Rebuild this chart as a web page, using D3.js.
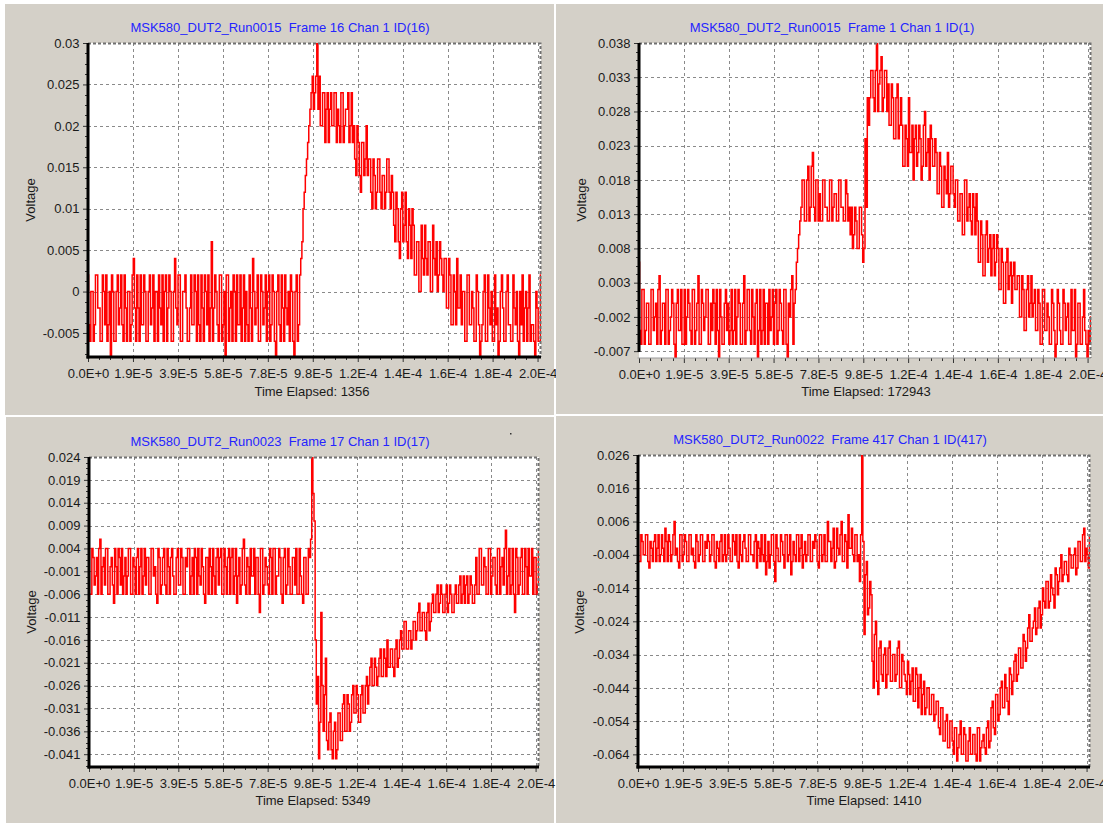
<!DOCTYPE html>
<html>
<head>
<meta charset="utf-8">
<script src="https://cdn.jsdelivr.net/npm/d3@7"></script>
<style>
  body { margin: 0; background: #fff; }
  svg { display: block; }
  text { font-family: "Liberation Sans", Arial, sans-serif; font-size: 13px; }
</style>
</head>
<body>
<div id="chart"></div>
<script>
// ---- data read off the four scope captures ----
// samples are ADC codes (one code = 2 mV). Two interleaved phases:
// phase A at k * 1 us, phase B half a microsecond later.
const voltsPerCode = 0.002;
const sampleInterval = 1e-6;
const xMax = 1.975e-4;

const titles = [
  "MSK580_DUT2_Run0015  Frame 16 Chan 1 ID(16)",
  "MSK580_DUT2_Run0015  Frame 1 Chan 1 ID(1)",
  "MSK580_DUT2_Run0023  Frame 17 Chan 1 ID(17)",
  "MSK580_DUT2_Run0022  Frame 417 Chan 1 ID(417)"
];
const elapsed = [1356, 172943, 5349, 1410];

const xTickValues = [0, 1.96e-5, 3.92e-5, 5.88e-5, 7.84e-5, 9.8e-5, 1.176e-4, 1.372e-4, 1.568e-4, 1.764e-4, 1.96e-4];
const xTickLabels = ["0.0E+0", "1.9E-5", "3.9E-5", "5.8E-5", "7.8E-5", "9.8E-5", "1.2E-4", "1.4E-4", "1.6E-4", "1.8E-4", "2.0E-4"];

const yTicksRun0015F16 = [0.03, 0.025, 0.02, 0.015, 0.01, 0.005, 0, -0.005];
const yTicksRun0015F1 = [0.038, 0.033, 0.028, 0.023, 0.018, 0.013, 0.008, 0.003, -0.002, -0.007];
const yTicksRun0023F17 = [0.024, 0.019, 0.014, 0.009, 0.004, -0.001, -0.006, -0.011, -0.016, -0.021, -0.026, -0.031, -0.036, -0.041];
const yTicksRun0022F417 = [0.026, 0.016, 0.006, -0.004, -0.014, -0.024, -0.034, -0.044, -0.054, -0.064];

const yDomainRun0015F16 = [-0.0079, 0.03];
const yDomainRun0015F1 = [-0.008, 0.038];
const yDomainRun0023F17 = [-0.0438, 0.024];
const yDomainRun0022F417 = [-0.0678, 0.026];

const codesRun0015F16A = [
  1,-3,0,-2,1,-1,-3,0,1,-2,-4,0,-3,1,-1,-2,1,-3,0,-2,
  2,-3,-1,1,-2,0,-3,1,-1,-3,0,1,-2,-3,1,-1,0,-3,2,-2,
  1,-3,0,-1,-3,1,-2,0,1,-3,-1,1,-2,-3,3,-1,0,-3,1,-2,
  -4,1,-1,-3,0,1,-2,-3,1,0,-3,-1,2,-2,1,-3,0,-1,-3,1,
  -2,0,-4,1,-3,-1,1,-2,-3,0,-4,1,-2,
  2,5,7,9,11,13,12,15,
  13,10,12,11,9,12,10,12,11,9,12,10,11,9,12,
  10,7,9,6,9,8,7,
  8,5,7,6,8,5,7,6,8,5,
  6,3,5,2,6,4,3,5,2,
  4,1,3,0,2,4,1,3,0,2,3,1,2,0,
  2,-1,1,-2,0,2,-1,-2,
  0,-3,1,-2,-1,-3,0,-4,-2,1,-3,-1,0,-3,-2,-4,0,-1,-3,1,
  -2,-3,-1,0,-4,-2,-3,0,-1,-3,-2,-4,-1,-3
];
const codesRun0015F16B = [
  -2,0,-3,1,-1,-3,1,-2,-3,0,1,-3,0,-2,1,-3,-1,0,-3,1,
  -1,1,-3,-2,1,-3,0,-2,1,0,-3,-1,1,0,-3,1,-3,0,-1,1,
  -3,0,1,-3,-1,-2,1,-3,-2,1,-3,0,1,-1,-3,1,-2,1,-3,0,
  1,-3,0,1,-3,-2,1,-1,-3,-2,1,-3,0,-1,-3,1,-2,1,0,-3,
  1,-3,0,-2,1,-3,-1,0,1,-3,0,-3,1,
  3,6,8,10,12,11,13,11,
  10,12,9,12,11,10,12,9,10,12,9,11,12,10,9,
  8,10,7,9,7,10,8,
  6,8,5,8,6,7,5,8,6,7,
  4,6,3,5,3,6,2,4,5,
  1,3,0,4,1,2,3,0,4,1,0,3,1,2,
  -1,2,-2,1,-2,-1,1,0,
  -3,1,-2,0,-3,1,-2,-3,0,-3,1,-2,-3,1,-1,-3,1,-3,0,-2,
  -3,1,-2,-3,0,1,-1,-3,1,-2,-3,0,-3,1
];

const codesRun0015F1A = [
  3,-3,1,-2,0,-3,1,-1,-3,2,-2,0,1,-3,-1,0,-4,1,-2,-3,
  1,-1,0,-3,1,-2,2,-3,0,-1,1,-3,-2,0,1,-4,-1,-3,1,0,
  -2,-3,1,-1,0,-3,2,-2,1,-3,-1,0,-4,1,-2,-3,0,1,-1,-3,
  1,-2,0,-3,1,-4,-1,2,0,
  3,5,7,
  9,6,10,7,11,6,9,
  8,6,9,7,6,9,7,8,6,9,7,6,8,7,
  7,5,6,4,7,3,
  12,15,
  15,17,14,19,16,18,15,17,
  16,13,15,12,16,13,
  13,10,12,15,11,9,13,11,12,10,14,11,9,12,10,
  11,8,10,7,9,11,8,10,7,
  9,6,8,5,9,7,6,8,5,
  6,3,5,2,6,4,2,5,3,
  4,1,3,0,4,2,0,3,1,
  2,-1,1,-2,2,0,-1,1,-2,
  0,-3,1,-2,-1,-3,0,-4,1,-2,-3,0,-1,-3,1,-2,-4,0,-3,-1,
  -2,-4,-3
];
const codesRun0015F1B = [
  -2,1,-3,0,-3,1,-2,0,1,-3,0,-3,1,-2,1,-3,0,-2,1,-3,
  -3,1,-2,1,-3,0,-3,1,-2,1,-3,0,1,-3,-2,1,-3,0,-2,-3,
  1,-2,-3,1,-3,0,-3,1,-2,1,-3,1,-2,-3,1,0,-3,-2,1,0,
  -3,1,-2,1,-3,0,1,-3,1,
  4,6,9,
  6,9,6,10,7,9,6,
  6,9,7,6,9,6,8,6,9,7,6,9,6,5,
  4,7,4,7,5,4,
  7,13,
  17,15,17,14,17,14,17,14,
  13,16,12,15,12,15,
  10,13,10,11,13,12,10,13,9,13,10,12,13,10,12,
  8,11,7,10,8,7,10,8,9,
  6,8,5,9,6,8,5,7,8,
  3,6,2,5,3,5,4,2,5,
  1,4,0,3,1,3,2,1,2,
  -1,2,-2,1,-1,2,0,-2,1,
  -3,1,-2,0,-3,1,-2,-3,0,-3,1,-2,0,-3,-2,1,-3,0,-3,1,
  -3,-2,-1
];

const codesRun0023F17A = [
  2,-3,1,-1,-3,3,0,-2,2,-3,1,-4,0,2,-2,-3,1,-1,2,-3,
  0,1,-3,2,-1,-2,1,-3,2,0,-4,1,-2,2,-3,0,1,-1,-3,2,
  -2,1,-3,0,2,-1,-3,1,2,-2,0,-4,1,2,-3,-1,1,-2,2,-3,
  0,1,-3,2,-1,-4,1,-2,3,-3,0,2,-1,-3,1,-5,2,-2,0,-3,
  1,2,-3,-1,1,-4,2,-2,0,-3,1,2,-3,-1,-4,1,-3,
  1,12,5,-15,-21,-5,-18,-10,-20,-16,
  -21,-17,-20,-16,-19,-14,-18,-15,-17,-13,
  -16,-14,-17,-13,-16,-12,-13,-10,-13,-11,
  -12,-9,-12,-10,-8,-11,-9,-12,-8,-10,
  -7,-9,-6,-9,-7,-8,-6,-7,-4,-7,
  -5,-8,-4,-6,-3,-5,-2,-4,-3,-5,
  -2,-4,-3,-5,-2,-4,-1,-3,-4,-1,
  -3,-2,-4,
  1,-3,2,-2,0,-3,2,-1,1,-3,2,0,-2,4,-1,-3,2,-5,1,-2,
  2,-3,0,2,-1,-3,1,-2
];
const codesRun0023F17B = [
  -3,2,-2,1,2,-3,1,2,-3,0,-2,2,-3,1,2,-1,-3,2,-3,1,
  -3,2,0,-3,2,1,-3,2,-1,-3,2,-3,1,-2,2,-3,2,-3,1,-2,
  2,-3,1,2,-3,1,2,-3,-1,2,-3,1,-3,0,2,-3,2,1,-3,2,
  -3,2,1,-3,2,-1,-3,2,-2,1,-3,-1,2,1,-3,2,-3,1,-2,2,
  -3,2,-1,2,-3,1,-3,2,-3,1,-2,-3,2,-3,1,-3,2,
  3,8,-8,-12,-17,-13,-14,-19,-17,-20,
  -18,-21,-16,-19,-15,-18,-14,-18,-14,-16,
  -13,-17,-14,-16,-13,-15,-11,-13,-10,-13,
  -10,-12,-9,-12,-11,-9,-11,-9,-11,-8,
  -9,-6,-9,-7,-9,-6,-8,-5,-7,-5,
  -7,-5,-7,-4,-5,-3,-5,-2,-5,-3,
  -5,-2,-5,-3,-4,-2,-4,-1,-2,-4,
  -1,-4,-2,
  -3,2,-2,1,-3,2,-3,1,-2,2,-3,1,2,-3,2,-2,-3,2,-3,1,
  -3,2,-3,-1,2,1,-3,2
];

const codesRun0022F417A = [
  1,-3,0,-2,1,-4,-1,0,-3,1,-2,-1,2,-3,0,-2,3,-1,-4,1,
  -2,0,-3,1,-1,-4,0,-2,1,-3,-1,0,-2,1,-4,-1,0,-3,1,-2,
  -1,-3,0,1,-4,-2,0,-1,-3,1,-2,0,-4,-1,1,-3,-5,0,-2,1,
  -6,-1,-3,0,-4,1,-2,-5,0,-3,1,-1,-4,0,-2,1,-3,-1,0,-4,
  1,-2,-3,3,0,-1,-4,2,-2,3,-3,0,4,-1,-2,1,-3,
  -6,13,-14,-3,-10,-8,-22,-12,-23,-15,
  -21,-16,-20,-15,-21,-17,-20,-15,-22,-18,
  -21,-18,-23,-19,-24,-20,-22,-26,-21,-25,
  -22,-26,-23,-26,-24,-29,-25,-30,-26,-31,
  -27,-32,-28,-31,-27,-32,-29,-33,-28,-32,
  -29,-33,-28,-31,-29,-32,-27,-30,-24,-29,
  -23,-26,-21,-25,-22,-26,-20,-21,-17,-20,
  -16,-19,-15,-16,-11,-15,-12,-14,-10,-13,
  -7,-10,-6,-9,-7,-10,-5,-6,-2,-5,
  -3,-6,-2,-4,-1,-4,0,-3,2,-1,
  -4
];
const codesRun0022F417B = [
  -3,1,-2,1,-3,0,-3,1,-1,-3,1,-3,0,1,-3,1,-2,-3,1,-3,
  1,-3,1,-2,-3,1,-3,1,-3,0,1,-3,1,-3,0,-3,1,-2,-3,1,
  -3,1,-2,-3,1,-3,1,-3,1,-2,-3,1,0,-3,-2,1,-3,-4,1,-3,
  1,-3,1,-2,1,-3,1,-3,-2,1,-3,1,-2,-3,1,-3,0,1,-3,1,
  -3,1,-3,0,-3,2,-3,-1,1,-3,1,-4,-1,2,-3,1,-2,
  1,0,-5,-11,-6,-18,-14,-21,-16,-20,
  -17,-22,-16,-21,-17,-21,-16,-22,-17,-20,
  -23,-20,-21,-24,-19,-25,-20,-23,-26,-22,
  -26,-23,-27,-24,-28,-25,-30,-27,-31,-27,
  -30,-28,-33,-29,-32,-28,-33,-30,-32,-29,
  -32,-28,-33,-30,-31,-28,-31,-25,-28,-23,
  -27,-22,-25,-20,-24,-19,-23,-18,-21,-16,
  -19,-14,-18,-13,-15,-13,-10,-13,-9,-11,
  -9,-6,-10,-5,-8,-4,-8,-4,-6,-3,
  -5,-1,-4,-2,-5,0,-3,1,-3,-2,
  1
];

// ---- page layout (pixels) ----
const W = 1103, H = 823;
const layouts = [
  { bg: [5, 4, 554, 415], plot: [88, 43, 541, 357], title: [280, 27], xLabel: [312, 391], yLabel: [30, 200] },
  { bg: [556, 4, 1103, 414], plot: [639, 43, 1091, 358], title: [832, 27], xLabel: [866, 391], yLabel: [581, 200], leftAxisEnd: 352, thinBottom: true },
  { bg: [6, 417, 554, 823], plot: [89, 457, 539, 767], title: [280, 441], xLabel: [313, 800], yLabel: [31, 612] },
  { bg: [556, 416, 1103, 823], plot: [638, 455, 1090, 767], title: [830, 439], xLabel: [864, 800], yLabel: [579, 612] }
];

const frames = [
  { a: codesRun0015F16A, b: codesRun0015F16B, yTicks: yTicksRun0015F16, yDomain: yDomainRun0015F16 },
  { a: codesRun0015F1A, b: codesRun0015F1B, yTicks: yTicksRun0015F1, yDomain: yDomainRun0015F1 },
  { a: codesRun0023F17A, b: codesRun0023F17B, yTicks: yTicksRun0023F17, yDomain: yDomainRun0023F17 },
  { a: codesRun0022F417A, b: codesRun0022F417B, yTicks: yTicksRun0022F417, yDomain: yDomainRun0022F417 }
];

const svg = d3.select("#chart").append("svg")
    .attr("width", W)
    .attr("height", H);

svg.append("rect").attr("width", W).attr("height", H).attr("fill", "#fff");

function minorTicks(ticks, domain) {
    const step = Math.abs(ticks[1] - ticks[0]);
    const lo = Math.min(domain[0], domain[1]), hi = Math.max(domain[0], domain[1]);
    const out = [];
    for (let v = Math.min(...ticks) - step; v <= hi + 1e-12; v += step / 4) {
        const onMajor = ticks.some(t => Math.abs(t - v) < step / 100);
        if (v >= lo && !onMajor) out.push(v);
    }
    return out;
}

function drawPanel(frame, box, i) {
    const g = svg.append("g");
    const [x0, y0, x1, y1] = box.plot;

    g.append("rect")
        .attr("x", box.bg[0]).attr("y", box.bg[1])
        .attr("width", box.bg[2] - box.bg[0]).attr("height", box.bg[3] - box.bg[1])
        .attr("fill", "#d4d0c8");

    const x = d3.scaleLinear().domain([0, xMax]).range([x0, x1]);
    const y = d3.scaleLinear().domain(frame.yDomain).range([y1, y0]);

    g.append("rect")
        .attr("x", x0).attr("y", y0)
        .attr("width", x1 - x0).attr("height", y1 - y0)
        .attr("fill", "#fff");

    // dashed grid
    const grid = g.append("g")
        .attr("stroke", "#8a8a8a")
        .attr("stroke-width", 1)
        .attr("stroke-dasharray", "3,3");
    grid.selectAll(".vx").data(xTickValues.slice(1)).join("line")
        .attr("x1", d => Math.round(x(d)) + 0.5).attr("x2", d => Math.round(x(d)) + 0.5)
        .attr("y1", y0).attr("y2", y1);
    grid.selectAll(".hy").data(frame.yTicks.filter(d => y(d) > y0 + 2)).join("line")
        .attr("x1", x0).attr("x2", x1)
        .attr("y1", d => Math.round(y(d)) + 0.5).attr("y2", d => Math.round(y(d)) + 0.5);

    // trace: interleave the two sampling phases
    const samples = frame.a.flatMap((c, k) => [
        { t: k * sampleInterval, c: c },
        { t: (k + 0.5) * sampleInterval, c: frame.b[k] }
    ]);

    const clipId = "plotclip" + i;
    g.append("clipPath").attr("id", clipId)
        .append("rect").attr("x", x0).attr("y", y0).attr("width", x1 - x0).attr("height", y1 - y0);

    const line = d3.line()
        .x(d => x(d.t))
        .y(d => y(d.c * voltsPerCode))
        .curve(d3.curveStep);

    g.append("path")
        .datum(samples)
        .attr("d", line)
        .attr("fill", "none")
        .attr("stroke", "#ff0000")
        .attr("stroke-width", 1.5)
        .attr("stroke-linejoin", "miter")
        .attr("clip-path", `url(#${clipId})`);

    // dotted frame top and right
    g.append("path")
        .attr("d", `M${x0},${y0 + 0.5}H${x1 - 0.5}V${y1}`)
        .attr("fill", "none")
        .attr("stroke", "#707070")
        .attr("stroke-width", 2)
        .attr("stroke-dasharray", "3,2");

    // axes
    const yAxis = d3.axisLeft(y)
        .tickValues(frame.yTicks)
        .tickFormat(d => String(d))
        .tickSize(5)
        .tickPadding(3.5);
    g.append("g")
        .attr("transform", `translate(${x0},0)`)
        .attr("color", "#333")
        .call(yAxis)
        .call(a => a.select(".domain").remove())
        .call(a => a.selectAll("text").attr("font-size", 13).attr("font-family", null).attr("fill", "#1a1a1a"));

    g.append("g").attr("stroke", "#333").selectAll("line")
        .data(minorTicks(frame.yTicks, frame.yDomain)).join("line")
        .attr("x1", x0 - 3).attr("x2", x0)
        .attr("y1", d => Math.round(y(d)) + 0.5).attr("y2", d => Math.round(y(d)) + 0.5);

    const xAxis = d3.axisBottom(x)
        .tickValues(xTickValues)
        .tickFormat((d, k) => xTickLabels[k])
        .tickSize(5)
        .tickPadding(7);
    g.append("g")
        .attr("transform", `translate(0,${y1})`)
        .attr("color", "#333")
        .call(xAxis)
        .call(a => a.select(".domain").remove())
        .call(a => a.selectAll("text").attr("font-size", 13).attr("font-family", null).attr("fill", "#1a1a1a"));

    g.append("g").attr("stroke", "#333").selectAll("line")
        .data(minorTicks(xTickValues, [0, xMax])).join("line")
        .attr("x1", d => Math.round(x(d)) + 0.5).attr("x2", d => Math.round(x(d)) + 0.5)
        .attr("y1", y1).attr("y2", y1 + 3);

    // thick axis lines
    g.append("line")
        .attr("x1", x0).attr("x2", x0)
        .attr("y1", y0).attr("y2", box.leftAxisEnd || y1 + 1.5)
        .attr("stroke", "#000").attr("stroke-width", 3);
    g.append("line")
        .attr("x1", x0 - 1.5).attr("x2", x1)
        .attr("y1", y1).attr("y2", y1)
        .attr("stroke", box.thinBottom ? "#9a9a9a" : "#000")
        .attr("stroke-width", box.thinBottom ? 1 : 3);

    // texts
    g.append("text")
        .attr("x", box.title[0]).attr("y", box.title[1])
        .attr("dy", "0.35em")
        .attr("text-anchor", "middle")
        .attr("fill", "#2424ff")
        .style("white-space", "pre")
        .text(titles[i]);

    g.append("text")
        .attr("x", box.xLabel[0]).attr("y", box.xLabel[1])
        .attr("dy", "0.35em")
        .attr("text-anchor", "middle")
        .attr("fill", "#1a1a1a")
        .text("Time Elapsed: " + elapsed[i]);

    g.append("text")
        .attr("transform", `translate(${box.yLabel[0]},${box.yLabel[1]}) rotate(-90)`)
        .attr("dy", "0.35em")
        .attr("text-anchor", "middle")
        .attr("fill", "#1a1a1a")
        .text("Voltage");
}

frames.forEach((f, i) => drawPanel(f, layouts[i], i));

// stray pixel in the Run0023 capture
svg.append("rect").attr("x", 510).attr("y", 433).attr("width", 1.5).attr("height", 1.5).attr("fill", "#333");
</script>
</body>
</html>
